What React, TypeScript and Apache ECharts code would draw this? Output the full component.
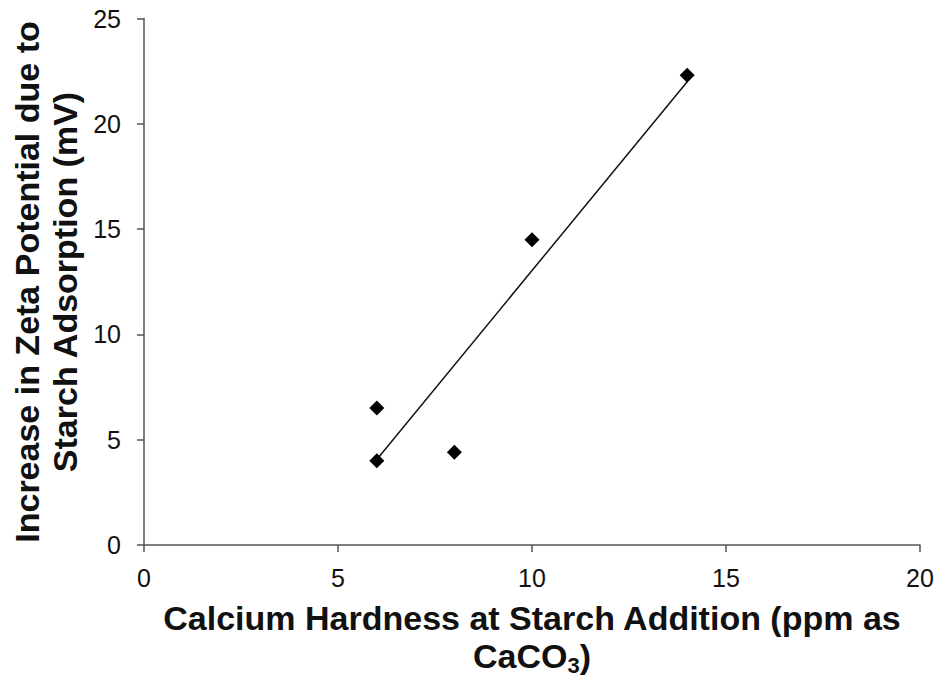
import React, { useEffect, useRef } from "react";
import * as echarts from "echarts";

const xValues = [6, 6, 8, 10, 14];
const yValues = [6.5, 4.0, 4.4, 14.5, 22.3];
const xTicks = [0, 5, 10, 15, 20];
const yTicks = [0, 5, 10, 15, 20, 25];
const xTitleLines = ["Calcium Hardness at Starch Addition (ppm as", "CaCO{sub|3})"];
const yTitleLines = ["Increase in Zeta Potential due to", "Starch Adsorption (mV)"];

function regression(xs: number[], ys: number[]) {
  const n = xs.length;
  const mx = xs.reduce((a, b) => a + b, 0) / n;
  const my = ys.reduce((a, b) => a + b, 0) / n;
  let sxx = 0, sxy = 0;
  for (let i = 0; i < n; i++) {
    sxx += (xs[i] - mx) ** 2;
    sxy += (xs[i] - mx) * (ys[i] - my);
  }
  const slope = sxy / sxx;
  return { slope, intercept: my - slope * mx };
}

export default function App() {
  const ref = useRef<HTMLDivElement>(null);
  useEffect(() => {
    if (!ref.current) return;
    const chart = echarts.init(ref.current, null, { renderer: "svg" });
    const { slope, intercept } = regression(xValues, yValues);
    const xmin = Math.min(...xValues);
    const xmax = Math.max(...xValues);
    const font = "Liberation Sans, Arial, sans-serif";
    const titleStyle = {
      fill: "#111",
      fontSize: 34,
      fontWeight: "bold",
      fontFamily: font,
      align: "center",
      verticalAlign: "middle",
    };
    chart.setOption({
      animation: false,
      backgroundColor: "#fff",
      grid: { left: 144, right: 19, top: 18.5, bottom: 133, containLabel: false, outerBoundsMode: "none" },
      xAxis: {
        type: "value",
        min: xTicks[0],
        max: xTicks[xTicks.length - 1],
        interval: 5,
        splitLine: { show: false },
        axisLine: { lineStyle: { color: "#555", width: 1.5 } },
        axisTick: { show: true, length: 7, lineStyle: { color: "#555", width: 1.5 } },
        axisLabel: { color: "#111", fontSize: 25, fontFamily: font, margin: 20 },
      },
      yAxis: {
        type: "value",
        min: yTicks[0],
        max: yTicks[yTicks.length - 1],
        interval: 5,
        splitLine: { show: false },
        axisLine: { show: true, lineStyle: { color: "#555", width: 1.5 } },
        axisTick: { show: true, length: 7, lineStyle: { color: "#555", width: 1.5 } },
        axisLabel: { color: "#111", fontSize: 25, fontFamily: font, margin: 23 },
      },
      graphic: [
        {
          type: "text",
          x: 532,
          y: 618,
          style: { ...titleStyle, text: xTitleLines[0] },
        },
        {
          type: "text",
          x: 532,
          y: 656,
          style: {
            ...titleStyle,
            text: xTitleLines[1],
            rich: {
              sub: { fontSize: 22, fontWeight: "bold", fontFamily: font, fill: "#111", padding: [18, 0, 0, 0] },
            },
          },
        },
        {
          type: "text",
          x: 27,
          y: 282,
          rotation: Math.PI / 2,
          style: { ...titleStyle, text: yTitleLines[0] },
        },
        {
          type: "text",
          x: 65,
          y: 282,
          rotation: Math.PI / 2,
          style: { ...titleStyle, text: yTitleLines[1] },
        },
      ],
      series: [
        {
          type: "line",
          data: [
            [xmin, slope * xmin + intercept],
            [xmax, slope * xmax + intercept],
          ],
          symbol: "none",
          lineStyle: { color: "#111", width: 1.5 },
          z: 1,
        },
        {
          type: "scatter",
          data: xValues.map((x, i) => [x, yValues[i]]),
          symbol: "diamond",
          symbolSize: 15,
          itemStyle: { color: "#000", opacity: 1 },
          z: 2,
        },
      ],
    });
    return () => chart.dispose();
  }, []);
  return <div ref={ref} style={{ width: 939, height: 678, position: "absolute", left: 0, top: 0 }} />;
}
